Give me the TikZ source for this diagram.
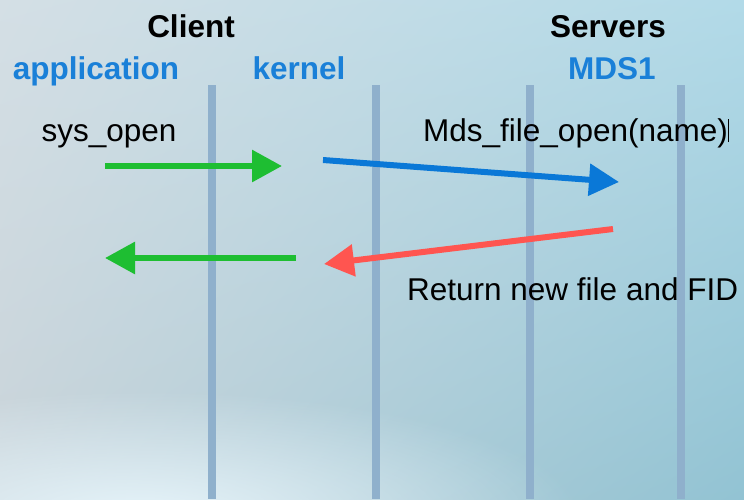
\documentclass[tikz,border=0pt]{standalone}
\usepackage{fontspec}
\setmainfont{Liberation Sans}
\usetikzlibrary{arrows.meta,shadings,fadings}
\definecolor{bgUL}{HTML}{D4DFE5}
\definecolor{bgUR}{HTML}{B2DAE8}
\definecolor{bgLL}{HTML}{C8D3D9}
\definecolor{bgLR}{HTML}{92C3D3}
\definecolor{bgGlow}{HTML}{E6F4FA}
\definecolor{lifeline}{HTML}{8FB0CC}
\definecolor{headblue}{HTML}{1A80D8}
\definecolor{callgreen}{HTML}{1EBE32}
\definecolor{callblue}{HTML}{0A78D7}
\definecolor{replyred}{HTML}{FF5550}
\tikzfading[name=glowfade, inner color=transparent!0, outer color=transparent!100]
\tikzset{
  txt/.style={anchor=base, inner sep=0pt, font=\fontsize{31.5}{37}\selectfont},
  group/.style={txt, font=\fontsize{31.5}{37}\selectfont\bfseries},
  role/.style={group, text=headblue},
  life/.style={draw=lifeline, line width=8pt},
  msg/.style={line width=6pt, -{Triangle[length=30pt,width=31pt]}},
}
\begin{document}
\begin{tikzpicture}[x=1pt, y=-1pt]
  \useasboundingbox (0,0) rectangle (744,499);
  % backdrop
  \shade[upper left=bgUL, upper right=bgUR, lower left=bgLL, lower right=bgLR]
    (0,0) rectangle (744,499);
  \begin{scope}
    \clip (0,0) rectangle (744,499);
    \fill[bgGlow, path fading=glowfade] (140,515) ellipse [x radius=440, y radius=125];
  \end{scope}

  % lifelines
  \foreach \x/\n in {212/l1, 376/l2, 530/l3, 681/l4} {
    \coordinate (\n top) at (\x,85);
    \coordinate (\n bot) at (\x,499);
    \draw[life] (\n top) -- (\n bot);
  }

  % headings
  \node[group] (client) at (191,37) {Client};
  \node[group] (servers) at (608,37) {Servers};
  \node[role] (app) at (96,79) {application};
  \node[role] (kern) at (299,79) {kernel};
  \node[role] (mds) at (612,79) {MDS1};

  % message labels
  \node[txt] (sysopen) at (109,141) {sys\_open};
  \node[txt, anchor=base west] (mdsopen) at (423,141)
    {Mds\_file\_open(name)\rule[-1pt]{1.2pt}{23pt}};
  \node[txt, anchor=base west] (ret) at (407,300) {Return new file and FID};

  % message end points
  \coordinate (a1) at (105,166);
  \coordinate (a2) at (282,166);
  \coordinate (b1) at (323,160);
  \coordinate (b2) at (619,182);
  \coordinate (c1) at (613,229);
  \coordinate (c2) at (324,264);
  \coordinate (d1) at (296,258);
  \coordinate (d2) at (105,258);

  % messages
  \draw[msg, draw=callgreen, fill=callgreen] (a1) -- (a2);
  \draw[msg, draw=callblue, fill=callblue] (b1) -- (b2);
  \draw[msg, draw=replyred, fill=replyred] (c1) -- (c2);
  \draw[msg, draw=callgreen, fill=callgreen] (d1) -- (d2);
\end{tikzpicture}
\end{document}
